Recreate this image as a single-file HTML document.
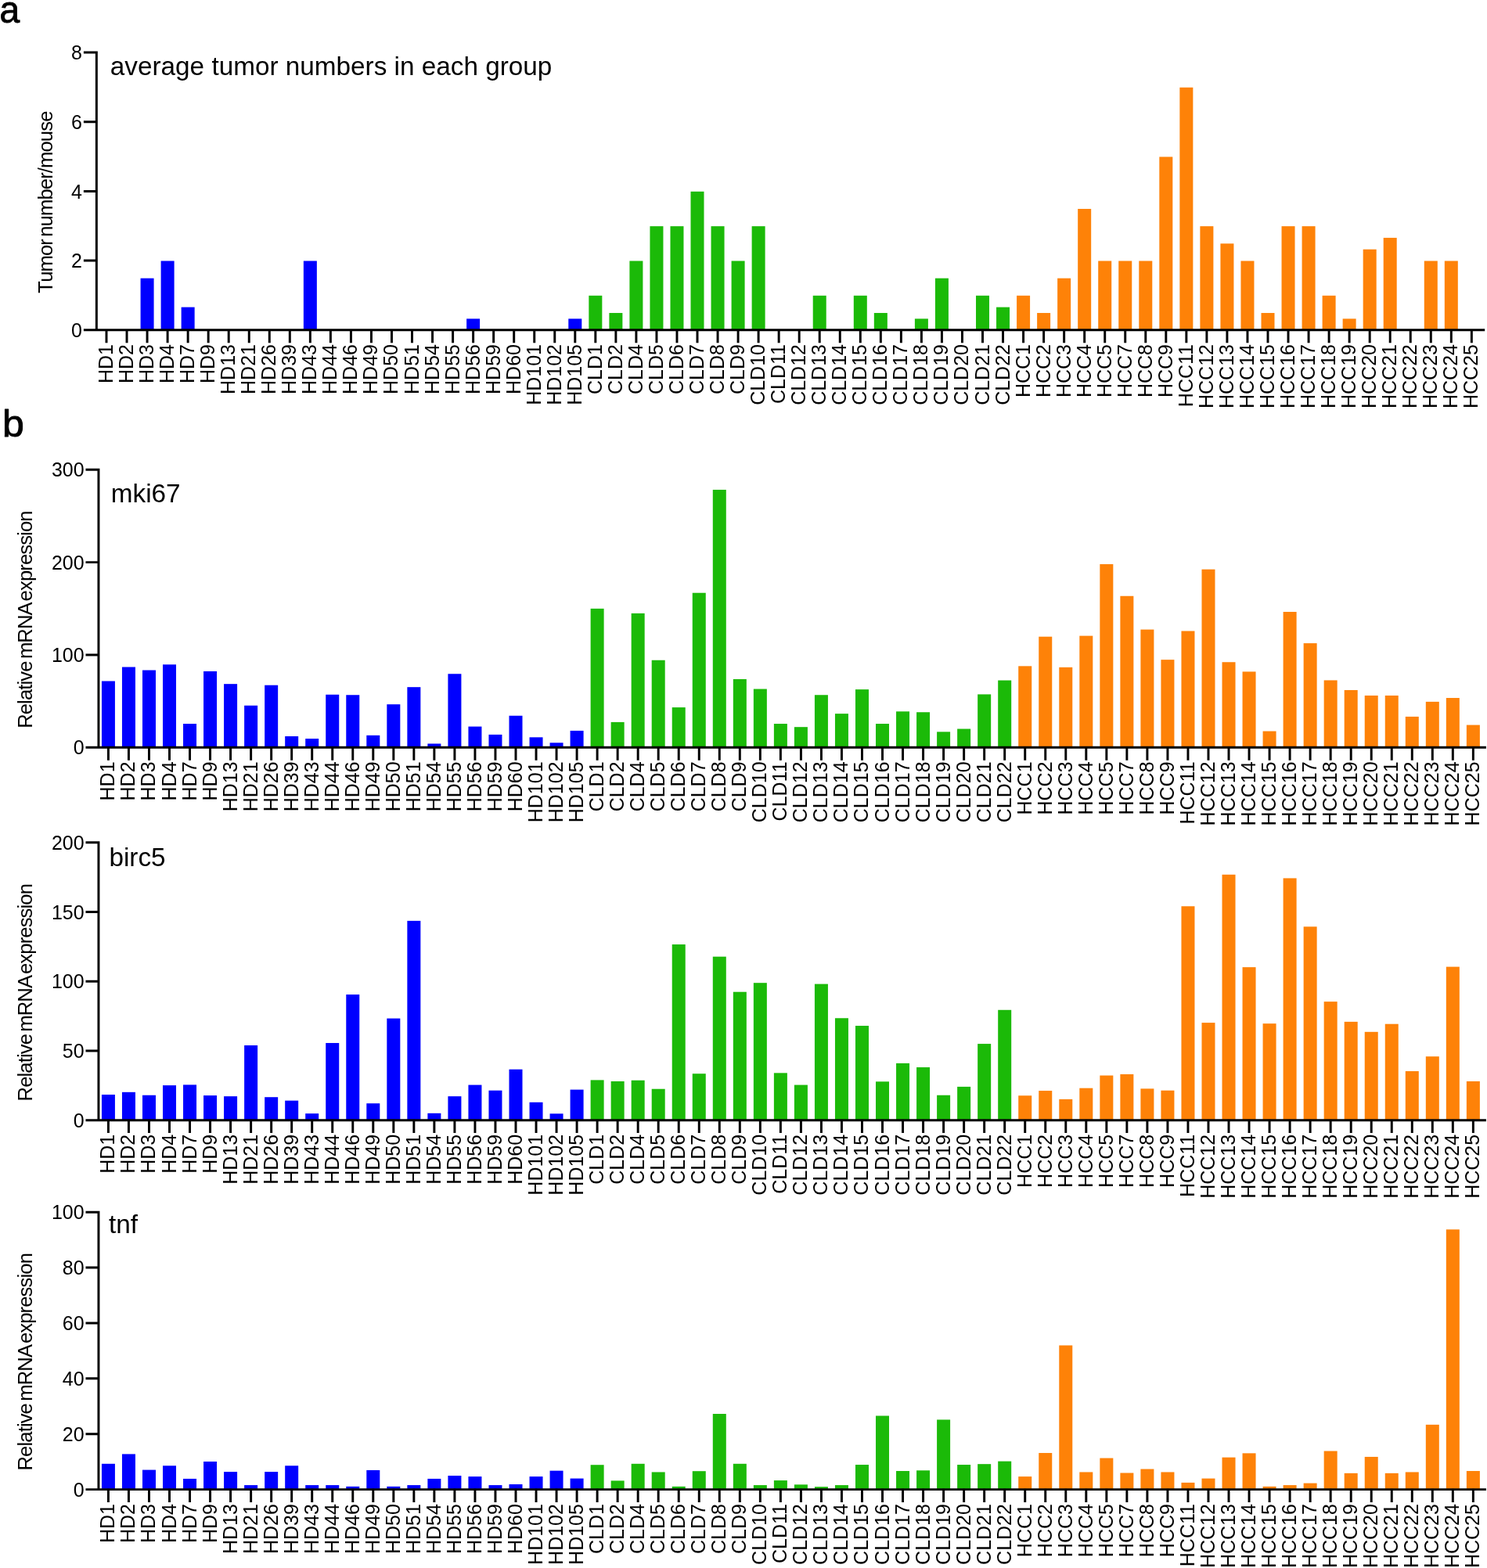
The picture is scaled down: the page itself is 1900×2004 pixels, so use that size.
<!DOCTYPE html>
<html lang="en">
<head>
<meta charset="utf-8">
<title>Tumor numbers and relative mRNA expression</title>
<style>
html,body{margin:0;padding:0;background:#fff;}
body{width:1900px;height:2004px;overflow:hidden;}
svg{display:block;}
text{font-family:"Liberation Sans", Arial, Helvetica, sans-serif;fill:#000;}
.ax{stroke:#000;stroke-width:2.95;fill:none;stroke-linecap:butt;}
.panel{font-weight:normal;font-size:48.6px;stroke:#000;stroke-width:0.9px;stroke-linejoin:round;}
.title{font-size:33.3px;}
.yt{font-size:25.0px;text-anchor:end;}
.yl{font-size:26.5px;text-anchor:middle;letter-spacing:-0.9px;word-spacing:-3.1px;}
.xl{text-anchor:end;}
</style>
</head>
<body>
<svg xmlns="http://www.w3.org/2000/svg" width="1900" height="2004" viewBox="0 0 1900 2004">
<rect x="0" y="0" width="1900" height="2004" fill="#ffffff"/>
<text class="panel" transform="translate(-0.4 28.8) scale(0.95 1)">a</text>
<text class="panel" transform="translate(3.1 557.9) scale(1.03 1)">b</text>
<g id="chart-a">
<g class="bars">
<rect x="179.57" y="355.64" width="17" height="66.11" fill="#0000ff"/>
<rect x="205.61" y="333.48" width="17" height="88.27" fill="#0000ff"/>
<rect x="231.64" y="392.59" width="17" height="29.16" fill="#0000ff"/>
<rect x="387.85" y="333.48" width="17" height="88.27" fill="#0000ff"/>
<rect x="596.13" y="407.37" width="17" height="14.38" fill="#0000ff"/>
<rect x="726.3" y="407.37" width="17" height="14.38" fill="#0000ff"/>
<rect x="752.34" y="377.81" width="17" height="43.94" fill="#1bba08"/>
<rect x="778.38" y="399.98" width="17" height="21.77" fill="#1bba08"/>
<rect x="804.41" y="333.48" width="17" height="88.27" fill="#1bba08"/>
<rect x="830.45" y="289.14" width="17" height="132.61" fill="#1bba08"/>
<rect x="856.48" y="289.14" width="17" height="132.61" fill="#1bba08"/>
<rect x="882.51" y="244.8" width="17" height="176.95" fill="#1bba08"/>
<rect x="908.55" y="289.14" width="17" height="132.61" fill="#1bba08"/>
<rect x="934.59" y="333.48" width="17" height="88.27" fill="#1bba08"/>
<rect x="960.62" y="289.14" width="17" height="132.61" fill="#1bba08"/>
<rect x="1038.72" y="377.81" width="17" height="43.94" fill="#1bba08"/>
<rect x="1090.8" y="377.81" width="17" height="43.94" fill="#1bba08"/>
<rect x="1116.83" y="399.98" width="17" height="21.77" fill="#1bba08"/>
<rect x="1168.9" y="407.37" width="17" height="14.38" fill="#1bba08"/>
<rect x="1194.93" y="355.64" width="17" height="66.11" fill="#1bba08"/>
<rect x="1247.01" y="377.81" width="17" height="43.94" fill="#1bba08"/>
<rect x="1273.04" y="392.59" width="17" height="29.16" fill="#1bba08"/>
<rect x="1299.08" y="377.81" width="17" height="43.94" fill="#fe8208"/>
<rect x="1325.11" y="399.98" width="17" height="21.77" fill="#fe8208"/>
<rect x="1351.14" y="355.64" width="17" height="66.11" fill="#fe8208"/>
<rect x="1377.18" y="266.97" width="17" height="154.78" fill="#fe8208"/>
<rect x="1403.21" y="333.48" width="17" height="88.27" fill="#fe8208"/>
<rect x="1429.25" y="333.48" width="17" height="88.27" fill="#fe8208"/>
<rect x="1455.29" y="333.48" width="17" height="88.27" fill="#fe8208"/>
<rect x="1481.32" y="200.46" width="17" height="221.29" fill="#fe8208"/>
<rect x="1507.36" y="111.79" width="17" height="309.96" fill="#fe8208"/>
<rect x="1533.39" y="289.14" width="17" height="132.61" fill="#fe8208"/>
<rect x="1559.42" y="311.31" width="17" height="110.44" fill="#fe8208"/>
<rect x="1585.46" y="333.48" width="17" height="88.27" fill="#fe8208"/>
<rect x="1611.5" y="399.98" width="17" height="21.77" fill="#fe8208"/>
<rect x="1637.53" y="289.14" width="17" height="132.61" fill="#fe8208"/>
<rect x="1663.57" y="289.14" width="17" height="132.61" fill="#fe8208"/>
<rect x="1689.6" y="377.81" width="17" height="43.94" fill="#fe8208"/>
<rect x="1715.63" y="407.37" width="17" height="14.38" fill="#fe8208"/>
<rect x="1741.67" y="318.7" width="17" height="103.05" fill="#fe8208"/>
<rect x="1767.7" y="303.92" width="17" height="117.83" fill="#fe8208"/>
<rect x="1819.78" y="333.48" width="17" height="88.27" fill="#fe8208"/>
<rect x="1845.81" y="333.48" width="17" height="88.27" fill="#fe8208"/>
</g>
<path class="ax" d="M123.35 65.58V423.23M106.88 421.75H1897.2M106.88 333.07H123.35M106.88 244.4H123.35M106.88 155.73H123.35M106.88 67.05H123.35M136 421.75V438.23M162.03 421.75V438.23M188.07 421.75V438.23M214.11 421.75V438.23M240.14 421.75V438.23M266.18 421.75V438.23M292.21 421.75V438.23M318.25 421.75V438.23M344.28 421.75V438.23M370.31 421.75V438.23M396.35 421.75V438.23M422.38 421.75V438.23M448.42 421.75V438.23M474.45 421.75V438.23M500.49 421.75V438.23M526.52 421.75V438.23M552.56 421.75V438.23M578.6 421.75V438.23M604.63 421.75V438.23M630.66 421.75V438.23M656.7 421.75V438.23M682.74 421.75V438.23M708.77 421.75V438.23M734.8 421.75V438.23M760.84 421.75V438.23M786.88 421.75V438.23M812.91 421.75V438.23M838.95 421.75V438.23M864.98 421.75V438.23M891.01 421.75V438.23M917.05 421.75V438.23M943.09 421.75V438.23M969.12 421.75V438.23M995.15 421.75V438.23M1021.19 421.75V438.23M1047.22 421.75V438.23M1073.26 421.75V438.23M1099.3 421.75V438.23M1125.33 421.75V438.23M1151.37 421.75V438.23M1177.4 421.75V438.23M1203.43 421.75V438.23M1229.47 421.75V438.23M1255.51 421.75V438.23M1281.54 421.75V438.23M1307.58 421.75V438.23M1333.61 421.75V438.23M1359.64 421.75V438.23M1385.68 421.75V438.23M1411.71 421.75V438.23M1437.75 421.75V438.23M1463.79 421.75V438.23M1489.82 421.75V438.23M1515.86 421.75V438.23M1541.89 421.75V438.23M1567.92 421.75V438.23M1593.96 421.75V438.23M1620 421.75V438.23M1646.03 421.75V438.23M1672.07 421.75V438.23M1698.1 421.75V438.23M1724.13 421.75V438.23M1750.17 421.75V438.23M1776.2 421.75V438.23M1802.24 421.75V438.23M1828.28 421.75V438.23M1854.31 421.75V438.23M1880.35 421.75V438.23"/>
<text class="yt" transform="translate(104.97 430.85) scale(1 1.04)">0</text>
<text class="yt" transform="translate(104.97 342.18) scale(1 1.04)">2</text>
<text class="yt" transform="translate(104.97 253.5) scale(1 1.04)">4</text>
<text class="yt" transform="translate(104.97 164.83) scale(1 1.04)">6</text>
<text class="yt" transform="translate(104.97 76.15) scale(1 1.04)">8</text>
<text class="title" x="140.8" y="96.1">average tumor numbers in each group</text>
<text class="yl" transform="translate(67.4 258.55) rotate(-90) scale(0.966 1)">Tumor number/mouse</text>
<g class="xl" font-size="25">
<text transform="translate(144 440.05) rotate(-90) scale(1 1.055)">HD1</text>
<text transform="translate(170.03 440.05) rotate(-90) scale(1 1.055)">HD2</text>
<text transform="translate(196.07 440.05) rotate(-90) scale(1 1.055)">HD3</text>
<text transform="translate(222.11 440.05) rotate(-90) scale(1 1.055)">HD4</text>
<text transform="translate(248.14 440.05) rotate(-90) scale(1 1.055)">HD7</text>
<text transform="translate(274.18 440.05) rotate(-90) scale(1 1.055)">HD9</text>
<text transform="translate(300.21 440.05) rotate(-90) scale(1 1.055)">HD13</text>
<text transform="translate(326.25 440.05) rotate(-90) scale(1 1.055)">HD21</text>
<text transform="translate(352.28 440.05) rotate(-90) scale(1 1.055)">HD26</text>
<text transform="translate(378.31 440.05) rotate(-90) scale(1 1.055)">HD39</text>
<text transform="translate(404.35 440.05) rotate(-90) scale(1 1.055)">HD43</text>
<text transform="translate(430.38 440.05) rotate(-90) scale(1 1.055)">HD44</text>
<text transform="translate(456.42 440.05) rotate(-90) scale(1 1.055)">HD46</text>
<text transform="translate(482.45 440.05) rotate(-90) scale(1 1.055)">HD49</text>
<text transform="translate(508.49 440.05) rotate(-90) scale(1 1.055)">HD50</text>
<text transform="translate(534.52 440.05) rotate(-90) scale(1 1.055)">HD51</text>
<text transform="translate(560.56 440.05) rotate(-90) scale(1 1.055)">HD54</text>
<text transform="translate(586.6 440.05) rotate(-90) scale(1 1.055)">HD55</text>
<text transform="translate(612.63 440.05) rotate(-90) scale(1 1.055)">HD56</text>
<text transform="translate(638.66 440.05) rotate(-90) scale(1 1.055)">HD59</text>
<text transform="translate(664.7 440.05) rotate(-90) scale(1 1.055)">HD60</text>
<text transform="translate(690.74 440.05) rotate(-90) scale(1 1.055)">HD101</text>
<text transform="translate(716.77 440.05) rotate(-90) scale(1 1.055)">HD102</text>
<text transform="translate(742.8 440.05) rotate(-90) scale(1 1.055)">HD105</text>
<text transform="translate(768.84 440.05) rotate(-90) scale(1 1.055)">CLD1</text>
<text transform="translate(794.88 440.05) rotate(-90) scale(1 1.055)">CLD2</text>
<text transform="translate(820.91 440.05) rotate(-90) scale(1 1.055)">CLD4</text>
<text transform="translate(846.95 440.05) rotate(-90) scale(1 1.055)">CLD5</text>
<text transform="translate(872.98 440.05) rotate(-90) scale(1 1.055)">CLD6</text>
<text transform="translate(899.01 440.05) rotate(-90) scale(1 1.055)">CLD7</text>
<text transform="translate(925.05 440.05) rotate(-90) scale(1 1.055)">CLD8</text>
<text transform="translate(951.09 440.05) rotate(-90) scale(1 1.055)">CLD9</text>
<text transform="translate(977.12 440.05) rotate(-90) scale(1 1.055)">CLD10</text>
<text transform="translate(1003.15 440.05) rotate(-90) scale(1 1.055)">CLD11</text>
<text transform="translate(1029.19 440.05) rotate(-90) scale(1 1.055)">CLD12</text>
<text transform="translate(1055.22 440.05) rotate(-90) scale(1 1.055)">CLD13</text>
<text transform="translate(1081.26 440.05) rotate(-90) scale(1 1.055)">CLD14</text>
<text transform="translate(1107.3 440.05) rotate(-90) scale(1 1.055)">CLD15</text>
<text transform="translate(1133.33 440.05) rotate(-90) scale(1 1.055)">CLD16</text>
<text transform="translate(1159.37 440.05) rotate(-90) scale(1 1.055)">CLD17</text>
<text transform="translate(1185.4 440.05) rotate(-90) scale(1 1.055)">CLD18</text>
<text transform="translate(1211.43 440.05) rotate(-90) scale(1 1.055)">CLD19</text>
<text transform="translate(1237.47 440.05) rotate(-90) scale(1 1.055)">CLD20</text>
<text transform="translate(1263.51 440.05) rotate(-90) scale(1 1.055)">CLD21</text>
<text transform="translate(1289.54 440.05) rotate(-90) scale(1 1.055)">CLD22</text>
<text transform="translate(1315.58 440.05) rotate(-90) scale(1 1.055)">HCC1</text>
<text transform="translate(1341.61 440.05) rotate(-90) scale(1 1.055)">HCC2</text>
<text transform="translate(1367.64 440.05) rotate(-90) scale(1 1.055)">HCC3</text>
<text transform="translate(1393.68 440.05) rotate(-90) scale(1 1.055)">HCC4</text>
<text transform="translate(1419.71 440.05) rotate(-90) scale(1 1.055)">HCC5</text>
<text transform="translate(1445.75 440.05) rotate(-90) scale(1 1.055)">HCC7</text>
<text transform="translate(1471.79 440.05) rotate(-90) scale(1 1.055)">HCC8</text>
<text transform="translate(1497.82 440.05) rotate(-90) scale(1 1.055)">HCC9</text>
<text transform="translate(1523.86 440.05) rotate(-90) scale(1 1.055)">HCC11</text>
<text transform="translate(1549.89 440.05) rotate(-90) scale(1 1.055)">HCC12</text>
<text transform="translate(1575.92 440.05) rotate(-90) scale(1 1.055)">HCC13</text>
<text transform="translate(1601.96 440.05) rotate(-90) scale(1 1.055)">HCC14</text>
<text transform="translate(1628 440.05) rotate(-90) scale(1 1.055)">HCC15</text>
<text transform="translate(1654.03 440.05) rotate(-90) scale(1 1.055)">HCC16</text>
<text transform="translate(1680.07 440.05) rotate(-90) scale(1 1.055)">HCC17</text>
<text transform="translate(1706.1 440.05) rotate(-90) scale(1 1.055)">HCC18</text>
<text transform="translate(1732.13 440.05) rotate(-90) scale(1 1.055)">HCC19</text>
<text transform="translate(1758.17 440.05) rotate(-90) scale(1 1.055)">HCC20</text>
<text transform="translate(1784.2 440.05) rotate(-90) scale(1 1.055)">HCC21</text>
<text transform="translate(1810.24 440.05) rotate(-90) scale(1 1.055)">HCC22</text>
<text transform="translate(1836.28 440.05) rotate(-90) scale(1 1.055)">HCC23</text>
<text transform="translate(1862.31 440.05) rotate(-90) scale(1 1.055)">HCC24</text>
<text transform="translate(1888.35 440.05) rotate(-90) scale(1 1.055)">HCC25</text>
</g>
</g>
<g id="chart-b1">
<g class="bars">
<rect x="129.92" y="870.49" width="17" height="84.76" fill="#0000ff"/>
<rect x="155.95" y="852.51" width="17" height="102.74" fill="#0000ff"/>
<rect x="181.98" y="856.53" width="17" height="98.72" fill="#0000ff"/>
<rect x="208.01" y="849.31" width="17" height="105.94" fill="#0000ff"/>
<rect x="234.04" y="925.03" width="17" height="30.22" fill="#0000ff"/>
<rect x="260.06" y="857.95" width="17" height="97.3" fill="#0000ff"/>
<rect x="286.09" y="874.16" width="17" height="81.09" fill="#0000ff"/>
<rect x="312.12" y="901.73" width="17" height="53.52" fill="#0000ff"/>
<rect x="338.15" y="875.7" width="17" height="79.55" fill="#0000ff"/>
<rect x="364.18" y="941.01" width="17" height="14.24" fill="#0000ff"/>
<rect x="390.21" y="944.08" width="17" height="11.17" fill="#0000ff"/>
<rect x="416.24" y="887.76" width="17" height="67.49" fill="#0000ff"/>
<rect x="442.27" y="888.24" width="17" height="67.01" fill="#0000ff"/>
<rect x="468.3" y="939.82" width="17" height="15.43" fill="#0000ff"/>
<rect x="494.33" y="900.19" width="17" height="55.06" fill="#0000ff"/>
<rect x="520.36" y="878.18" width="17" height="77.07" fill="#0000ff"/>
<rect x="546.38" y="950.47" width="17" height="4.78" fill="#0000ff"/>
<rect x="572.41" y="861.26" width="17" height="93.99" fill="#0000ff"/>
<rect x="598.44" y="928.58" width="17" height="26.67" fill="#0000ff"/>
<rect x="624.47" y="938.88" width="17" height="16.37" fill="#0000ff"/>
<rect x="650.5" y="914.74" width="17" height="40.51" fill="#0000ff"/>
<rect x="676.53" y="942.31" width="17" height="12.94" fill="#0000ff"/>
<rect x="702.56" y="949.29" width="17" height="5.96" fill="#0000ff"/>
<rect x="728.59" y="933.91" width="17" height="21.34" fill="#0000ff"/>
<rect x="754.62" y="777.85" width="17" height="177.4" fill="#1bba08"/>
<rect x="780.64" y="922.9" width="17" height="32.35" fill="#1bba08"/>
<rect x="806.67" y="783.88" width="17" height="171.37" fill="#1bba08"/>
<rect x="832.7" y="843.75" width="17" height="111.5" fill="#1bba08"/>
<rect x="858.73" y="904.09" width="17" height="51.16" fill="#1bba08"/>
<rect x="884.76" y="757.73" width="17" height="197.52" fill="#1bba08"/>
<rect x="910.79" y="625.93" width="17" height="329.32" fill="#1bba08"/>
<rect x="936.82" y="868.01" width="17" height="87.24" fill="#1bba08"/>
<rect x="962.85" y="880.55" width="17" height="74.7" fill="#1bba08"/>
<rect x="988.88" y="925.03" width="17" height="30.22" fill="#1bba08"/>
<rect x="1014.91" y="929.18" width="17" height="26.07" fill="#1bba08"/>
<rect x="1040.93" y="888.24" width="17" height="67.01" fill="#1bba08"/>
<rect x="1066.96" y="912.14" width="17" height="43.11" fill="#1bba08"/>
<rect x="1092.99" y="881.14" width="17" height="74.11" fill="#1bba08"/>
<rect x="1119.02" y="925.03" width="17" height="30.22" fill="#1bba08"/>
<rect x="1145.05" y="909.3" width="17" height="45.95" fill="#1bba08"/>
<rect x="1171.08" y="910.24" width="17" height="45.01" fill="#1bba08"/>
<rect x="1197.11" y="935.33" width="17" height="19.92" fill="#1bba08"/>
<rect x="1223.14" y="931.54" width="17" height="23.71" fill="#1bba08"/>
<rect x="1249.17" y="887.41" width="17" height="67.84" fill="#1bba08"/>
<rect x="1275.2" y="869.54" width="17" height="85.71" fill="#1bba08"/>
<rect x="1301.23" y="851.32" width="17" height="103.93" fill="#fe8208"/>
<rect x="1327.25" y="813.7" width="17" height="141.55" fill="#fe8208"/>
<rect x="1353.28" y="852.86" width="17" height="102.39" fill="#fe8208"/>
<rect x="1379.31" y="812.63" width="17" height="142.62" fill="#fe8208"/>
<rect x="1405.34" y="721.06" width="17" height="234.19" fill="#fe8208"/>
<rect x="1431.37" y="761.76" width="17" height="193.49" fill="#fe8208"/>
<rect x="1457.4" y="804.59" width="17" height="150.66" fill="#fe8208"/>
<rect x="1483.43" y="843.16" width="17" height="112.09" fill="#fe8208"/>
<rect x="1509.46" y="806.48" width="17" height="148.77" fill="#fe8208"/>
<rect x="1535.49" y="727.68" width="17" height="227.57" fill="#fe8208"/>
<rect x="1561.52" y="846.24" width="17" height="109.01" fill="#fe8208"/>
<rect x="1587.54" y="858.42" width="17" height="96.83" fill="#fe8208"/>
<rect x="1613.57" y="934.5" width="17" height="20.75" fill="#fe8208"/>
<rect x="1639.6" y="781.99" width="17" height="173.26" fill="#fe8208"/>
<rect x="1665.63" y="822.1" width="17" height="133.15" fill="#fe8208"/>
<rect x="1691.66" y="869.43" width="17" height="85.82" fill="#fe8208"/>
<rect x="1717.69" y="881.97" width="17" height="73.28" fill="#fe8208"/>
<rect x="1743.72" y="888.95" width="17" height="66.3" fill="#fe8208"/>
<rect x="1769.75" y="888.95" width="17" height="66.3" fill="#fe8208"/>
<rect x="1795.78" y="915.92" width="17" height="39.33" fill="#fe8208"/>
<rect x="1821.81" y="896.87" width="17" height="58.38" fill="#fe8208"/>
<rect x="1847.83" y="892.02" width="17" height="63.23" fill="#fe8208"/>
<rect x="1873.86" y="926.57" width="17" height="28.68" fill="#fe8208"/>
</g>
<path class="ax" d="M125.95 598.82V956.73M109.48 955.25H1898.9M109.48 836.93H125.95M109.48 718.62H125.95M109.48 600.3H125.95M138.42 955.25V971.73M164.45 955.25V971.73M190.48 955.25V971.73M216.51 955.25V971.73M242.54 955.25V971.73M268.56 955.25V971.73M294.59 955.25V971.73M320.62 955.25V971.73M346.65 955.25V971.73M372.68 955.25V971.73M398.71 955.25V971.73M424.74 955.25V971.73M450.77 955.25V971.73M476.8 955.25V971.73M502.83 955.25V971.73M528.86 955.25V971.73M554.88 955.25V971.73M580.91 955.25V971.73M606.94 955.25V971.73M632.97 955.25V971.73M659 955.25V971.73M685.03 955.25V971.73M711.06 955.25V971.73M737.09 955.25V971.73M763.12 955.25V971.73M789.14 955.25V971.73M815.17 955.25V971.73M841.2 955.25V971.73M867.23 955.25V971.73M893.26 955.25V971.73M919.29 955.25V971.73M945.32 955.25V971.73M971.35 955.25V971.73M997.38 955.25V971.73M1023.41 955.25V971.73M1049.43 955.25V971.73M1075.46 955.25V971.73M1101.49 955.25V971.73M1127.52 955.25V971.73M1153.55 955.25V971.73M1179.58 955.25V971.73M1205.61 955.25V971.73M1231.64 955.25V971.73M1257.67 955.25V971.73M1283.7 955.25V971.73M1309.73 955.25V971.73M1335.75 955.25V971.73M1361.78 955.25V971.73M1387.81 955.25V971.73M1413.84 955.25V971.73M1439.87 955.25V971.73M1465.9 955.25V971.73M1491.93 955.25V971.73M1517.96 955.25V971.73M1543.99 955.25V971.73M1570.02 955.25V971.73M1596.04 955.25V971.73M1622.07 955.25V971.73M1648.1 955.25V971.73M1674.13 955.25V971.73M1700.16 955.25V971.73M1726.19 955.25V971.73M1752.22 955.25V971.73M1778.25 955.25V971.73M1804.28 955.25V971.73M1830.31 955.25V971.73M1856.33 955.25V971.73M1882.36 955.25V971.73"/>
<text class="yt" transform="translate(107.58 964.35) scale(1 1.04)">0</text>
<text class="yt" transform="translate(107.58 846.03) scale(1 1.04)">100</text>
<text class="yt" transform="translate(107.58 727.72) scale(1 1.04)">200</text>
<text class="yt" transform="translate(107.58 609.4) scale(1 1.04)">300</text>
<text class="title" x="141.8" y="641.8">mki67</text>
<text class="yl" transform="translate(40.65 792.1) rotate(-90) scale(0.966 1)">Relative mRNA expression</text>
<g class="xl" font-size="25">
<text transform="translate(146.42 973.45) rotate(-90) scale(1 1.055)">HD1</text>
<text transform="translate(172.45 973.45) rotate(-90) scale(1 1.055)">HD2</text>
<text transform="translate(198.48 973.45) rotate(-90) scale(1 1.055)">HD3</text>
<text transform="translate(224.51 973.45) rotate(-90) scale(1 1.055)">HD4</text>
<text transform="translate(250.54 973.45) rotate(-90) scale(1 1.055)">HD7</text>
<text transform="translate(276.56 973.45) rotate(-90) scale(1 1.055)">HD9</text>
<text transform="translate(302.59 973.45) rotate(-90) scale(1 1.055)">HD13</text>
<text transform="translate(328.62 973.45) rotate(-90) scale(1 1.055)">HD21</text>
<text transform="translate(354.65 973.45) rotate(-90) scale(1 1.055)">HD26</text>
<text transform="translate(380.68 973.45) rotate(-90) scale(1 1.055)">HD39</text>
<text transform="translate(406.71 973.45) rotate(-90) scale(1 1.055)">HD43</text>
<text transform="translate(432.74 973.45) rotate(-90) scale(1 1.055)">HD44</text>
<text transform="translate(458.77 973.45) rotate(-90) scale(1 1.055)">HD46</text>
<text transform="translate(484.8 973.45) rotate(-90) scale(1 1.055)">HD49</text>
<text transform="translate(510.83 973.45) rotate(-90) scale(1 1.055)">HD50</text>
<text transform="translate(536.86 973.45) rotate(-90) scale(1 1.055)">HD51</text>
<text transform="translate(562.88 973.45) rotate(-90) scale(1 1.055)">HD54</text>
<text transform="translate(588.91 973.45) rotate(-90) scale(1 1.055)">HD55</text>
<text transform="translate(614.94 973.45) rotate(-90) scale(1 1.055)">HD56</text>
<text transform="translate(640.97 973.45) rotate(-90) scale(1 1.055)">HD59</text>
<text transform="translate(667 973.45) rotate(-90) scale(1 1.055)">HD60</text>
<text transform="translate(693.03 973.45) rotate(-90) scale(1 1.055)">HD101</text>
<text transform="translate(719.06 973.45) rotate(-90) scale(1 1.055)">HD102</text>
<text transform="translate(745.09 973.45) rotate(-90) scale(1 1.055)">HD105</text>
<text transform="translate(771.12 973.45) rotate(-90) scale(1 1.055)">CLD1</text>
<text transform="translate(797.14 973.45) rotate(-90) scale(1 1.055)">CLD2</text>
<text transform="translate(823.17 973.45) rotate(-90) scale(1 1.055)">CLD4</text>
<text transform="translate(849.2 973.45) rotate(-90) scale(1 1.055)">CLD5</text>
<text transform="translate(875.23 973.45) rotate(-90) scale(1 1.055)">CLD6</text>
<text transform="translate(901.26 973.45) rotate(-90) scale(1 1.055)">CLD7</text>
<text transform="translate(927.29 973.45) rotate(-90) scale(1 1.055)">CLD8</text>
<text transform="translate(953.32 973.45) rotate(-90) scale(1 1.055)">CLD9</text>
<text transform="translate(979.35 973.45) rotate(-90) scale(1 1.055)">CLD10</text>
<text transform="translate(1005.38 973.45) rotate(-90) scale(1 1.055)">CLD11</text>
<text transform="translate(1031.41 973.45) rotate(-90) scale(1 1.055)">CLD12</text>
<text transform="translate(1057.43 973.45) rotate(-90) scale(1 1.055)">CLD13</text>
<text transform="translate(1083.46 973.45) rotate(-90) scale(1 1.055)">CLD14</text>
<text transform="translate(1109.49 973.45) rotate(-90) scale(1 1.055)">CLD15</text>
<text transform="translate(1135.52 973.45) rotate(-90) scale(1 1.055)">CLD16</text>
<text transform="translate(1161.55 973.45) rotate(-90) scale(1 1.055)">CLD17</text>
<text transform="translate(1187.58 973.45) rotate(-90) scale(1 1.055)">CLD18</text>
<text transform="translate(1213.61 973.45) rotate(-90) scale(1 1.055)">CLD19</text>
<text transform="translate(1239.64 973.45) rotate(-90) scale(1 1.055)">CLD20</text>
<text transform="translate(1265.67 973.45) rotate(-90) scale(1 1.055)">CLD21</text>
<text transform="translate(1291.7 973.45) rotate(-90) scale(1 1.055)">CLD22</text>
<text transform="translate(1317.73 973.45) rotate(-90) scale(1 1.055)">HCC1</text>
<text transform="translate(1343.75 973.45) rotate(-90) scale(1 1.055)">HCC2</text>
<text transform="translate(1369.78 973.45) rotate(-90) scale(1 1.055)">HCC3</text>
<text transform="translate(1395.81 973.45) rotate(-90) scale(1 1.055)">HCC4</text>
<text transform="translate(1421.84 973.45) rotate(-90) scale(1 1.055)">HCC5</text>
<text transform="translate(1447.87 973.45) rotate(-90) scale(1 1.055)">HCC7</text>
<text transform="translate(1473.9 973.45) rotate(-90) scale(1 1.055)">HCC8</text>
<text transform="translate(1499.93 973.45) rotate(-90) scale(1 1.055)">HCC9</text>
<text transform="translate(1525.96 973.45) rotate(-90) scale(1 1.055)">HCC11</text>
<text transform="translate(1551.99 973.45) rotate(-90) scale(1 1.055)">HCC12</text>
<text transform="translate(1578.02 973.45) rotate(-90) scale(1 1.055)">HCC13</text>
<text transform="translate(1604.04 973.45) rotate(-90) scale(1 1.055)">HCC14</text>
<text transform="translate(1630.07 973.45) rotate(-90) scale(1 1.055)">HCC15</text>
<text transform="translate(1656.1 973.45) rotate(-90) scale(1 1.055)">HCC16</text>
<text transform="translate(1682.13 973.45) rotate(-90) scale(1 1.055)">HCC17</text>
<text transform="translate(1708.16 973.45) rotate(-90) scale(1 1.055)">HCC18</text>
<text transform="translate(1734.19 973.45) rotate(-90) scale(1 1.055)">HCC19</text>
<text transform="translate(1760.22 973.45) rotate(-90) scale(1 1.055)">HCC20</text>
<text transform="translate(1786.25 973.45) rotate(-90) scale(1 1.055)">HCC21</text>
<text transform="translate(1812.28 973.45) rotate(-90) scale(1 1.055)">HCC22</text>
<text transform="translate(1838.31 973.45) rotate(-90) scale(1 1.055)">HCC23</text>
<text transform="translate(1864.33 973.45) rotate(-90) scale(1 1.055)">HCC24</text>
<text transform="translate(1890.36 973.45) rotate(-90) scale(1 1.055)">HCC25</text>
</g>
</g>
<g id="chart-b2">
<g class="bars">
<rect x="129.92" y="1399.02" width="17" height="32.63" fill="#0000ff"/>
<rect x="155.95" y="1395.82" width="17" height="35.83" fill="#0000ff"/>
<rect x="181.98" y="1399.73" width="17" height="31.92" fill="#0000ff"/>
<rect x="208.01" y="1387.13" width="17" height="44.52" fill="#0000ff"/>
<rect x="234.04" y="1386.42" width="17" height="45.23" fill="#0000ff"/>
<rect x="260.06" y="1400.08" width="17" height="31.57" fill="#0000ff"/>
<rect x="286.09" y="1401.15" width="17" height="30.5" fill="#0000ff"/>
<rect x="312.12" y="1336.03" width="17" height="95.62" fill="#0000ff"/>
<rect x="338.15" y="1402.21" width="17" height="29.44" fill="#0000ff"/>
<rect x="364.18" y="1406.65" width="17" height="25" fill="#0000ff"/>
<rect x="390.21" y="1423.15" width="17" height="8.5" fill="#0000ff"/>
<rect x="416.24" y="1333.02" width="17" height="98.63" fill="#0000ff"/>
<rect x="442.27" y="1271.09" width="17" height="160.56" fill="#0000ff"/>
<rect x="468.3" y="1410.2" width="17" height="21.45" fill="#0000ff"/>
<rect x="494.33" y="1301.61" width="17" height="130.04" fill="#0000ff"/>
<rect x="520.36" y="1176.88" width="17" height="254.77" fill="#0000ff"/>
<rect x="546.38" y="1422.79" width="17" height="8.86" fill="#0000ff"/>
<rect x="572.41" y="1401.15" width="17" height="30.5" fill="#0000ff"/>
<rect x="598.44" y="1386.6" width="17" height="45.05" fill="#0000ff"/>
<rect x="624.47" y="1393.7" width="17" height="37.95" fill="#0000ff"/>
<rect x="650.5" y="1366.73" width="17" height="64.92" fill="#0000ff"/>
<rect x="676.53" y="1408.78" width="17" height="22.87" fill="#0000ff"/>
<rect x="702.56" y="1423.33" width="17" height="8.32" fill="#0000ff"/>
<rect x="728.59" y="1392.63" width="17" height="39.02" fill="#0000ff"/>
<rect x="754.62" y="1380.39" width="17" height="51.26" fill="#1bba08"/>
<rect x="780.64" y="1381.99" width="17" height="49.66" fill="#1bba08"/>
<rect x="806.67" y="1380.74" width="17" height="50.91" fill="#1bba08"/>
<rect x="832.7" y="1391.74" width="17" height="39.91" fill="#1bba08"/>
<rect x="858.73" y="1207.04" width="17" height="224.61" fill="#1bba08"/>
<rect x="884.76" y="1372.23" width="17" height="59.42" fill="#1bba08"/>
<rect x="910.79" y="1222.66" width="17" height="208.99" fill="#1bba08"/>
<rect x="936.82" y="1267.72" width="17" height="163.93" fill="#1bba08"/>
<rect x="962.85" y="1256.19" width="17" height="175.46" fill="#1bba08"/>
<rect x="988.88" y="1371.34" width="17" height="60.31" fill="#1bba08"/>
<rect x="1014.91" y="1386.6" width="17" height="45.05" fill="#1bba08"/>
<rect x="1040.93" y="1257.61" width="17" height="174.04" fill="#1bba08"/>
<rect x="1066.96" y="1301.26" width="17" height="130.39" fill="#1bba08"/>
<rect x="1092.99" y="1311.02" width="17" height="120.63" fill="#1bba08"/>
<rect x="1119.02" y="1382.34" width="17" height="49.31" fill="#1bba08"/>
<rect x="1145.05" y="1358.92" width="17" height="72.73" fill="#1bba08"/>
<rect x="1171.08" y="1364.07" width="17" height="67.58" fill="#1bba08"/>
<rect x="1197.11" y="1399.73" width="17" height="31.92" fill="#1bba08"/>
<rect x="1223.14" y="1388.91" width="17" height="42.74" fill="#1bba08"/>
<rect x="1249.17" y="1334.08" width="17" height="97.57" fill="#1bba08"/>
<rect x="1275.2" y="1290.79" width="17" height="140.86" fill="#1bba08"/>
<rect x="1301.23" y="1400.26" width="17" height="31.39" fill="#fe8208"/>
<rect x="1327.25" y="1394.05" width="17" height="37.6" fill="#fe8208"/>
<rect x="1353.28" y="1404.87" width="17" height="26.78" fill="#fe8208"/>
<rect x="1379.31" y="1390.68" width="17" height="40.97" fill="#fe8208"/>
<rect x="1405.34" y="1374.53" width="17" height="57.12" fill="#fe8208"/>
<rect x="1431.37" y="1372.94" width="17" height="58.71" fill="#fe8208"/>
<rect x="1457.4" y="1391.39" width="17" height="40.26" fill="#fe8208"/>
<rect x="1483.43" y="1393.7" width="17" height="37.95" fill="#fe8208"/>
<rect x="1509.46" y="1158.25" width="17" height="273.4" fill="#fe8208"/>
<rect x="1535.49" y="1307.11" width="17" height="124.54" fill="#fe8208"/>
<rect x="1561.52" y="1117.8" width="17" height="313.85" fill="#fe8208"/>
<rect x="1587.54" y="1236.14" width="17" height="195.51" fill="#fe8208"/>
<rect x="1613.57" y="1308.18" width="17" height="123.47" fill="#fe8208"/>
<rect x="1639.6" y="1122.41" width="17" height="309.24" fill="#fe8208"/>
<rect x="1665.63" y="1184.33" width="17" height="247.32" fill="#fe8208"/>
<rect x="1691.66" y="1280.14" width="17" height="151.51" fill="#fe8208"/>
<rect x="1717.69" y="1305.87" width="17" height="125.78" fill="#fe8208"/>
<rect x="1743.72" y="1318.82" width="17" height="112.83" fill="#fe8208"/>
<rect x="1769.75" y="1308.71" width="17" height="122.94" fill="#fe8208"/>
<rect x="1795.78" y="1369.03" width="17" height="62.62" fill="#fe8208"/>
<rect x="1821.81" y="1350.23" width="17" height="81.42" fill="#fe8208"/>
<rect x="1847.83" y="1235.61" width="17" height="196.04" fill="#fe8208"/>
<rect x="1873.86" y="1381.99" width="17" height="49.66" fill="#fe8208"/>
</g>
<path class="ax" d="M125.95 1075.33V1433.12M109.48 1431.65H1898.9M109.48 1342.94H125.95M109.48 1254.22H125.95M109.48 1165.51H125.95M109.48 1076.8H125.95M138.42 1431.65V1448.12M164.45 1431.65V1448.12M190.48 1431.65V1448.12M216.51 1431.65V1448.12M242.54 1431.65V1448.12M268.56 1431.65V1448.12M294.59 1431.65V1448.12M320.62 1431.65V1448.12M346.65 1431.65V1448.12M372.68 1431.65V1448.12M398.71 1431.65V1448.12M424.74 1431.65V1448.12M450.77 1431.65V1448.12M476.8 1431.65V1448.12M502.83 1431.65V1448.12M528.86 1431.65V1448.12M554.88 1431.65V1448.12M580.91 1431.65V1448.12M606.94 1431.65V1448.12M632.97 1431.65V1448.12M659 1431.65V1448.12M685.03 1431.65V1448.12M711.06 1431.65V1448.12M737.09 1431.65V1448.12M763.12 1431.65V1448.12M789.14 1431.65V1448.12M815.17 1431.65V1448.12M841.2 1431.65V1448.12M867.23 1431.65V1448.12M893.26 1431.65V1448.12M919.29 1431.65V1448.12M945.32 1431.65V1448.12M971.35 1431.65V1448.12M997.38 1431.65V1448.12M1023.41 1431.65V1448.12M1049.43 1431.65V1448.12M1075.46 1431.65V1448.12M1101.49 1431.65V1448.12M1127.52 1431.65V1448.12M1153.55 1431.65V1448.12M1179.58 1431.65V1448.12M1205.61 1431.65V1448.12M1231.64 1431.65V1448.12M1257.67 1431.65V1448.12M1283.7 1431.65V1448.12M1309.73 1431.65V1448.12M1335.75 1431.65V1448.12M1361.78 1431.65V1448.12M1387.81 1431.65V1448.12M1413.84 1431.65V1448.12M1439.87 1431.65V1448.12M1465.9 1431.65V1448.12M1491.93 1431.65V1448.12M1517.96 1431.65V1448.12M1543.99 1431.65V1448.12M1570.02 1431.65V1448.12M1596.04 1431.65V1448.12M1622.07 1431.65V1448.12M1648.1 1431.65V1448.12M1674.13 1431.65V1448.12M1700.16 1431.65V1448.12M1726.19 1431.65V1448.12M1752.22 1431.65V1448.12M1778.25 1431.65V1448.12M1804.28 1431.65V1448.12M1830.31 1431.65V1448.12M1856.33 1431.65V1448.12M1882.36 1431.65V1448.12"/>
<text class="yt" transform="translate(107.58 1440.75) scale(1 1.04)">0</text>
<text class="yt" transform="translate(107.58 1352.04) scale(1 1.04)">50</text>
<text class="yt" transform="translate(107.58 1263.32) scale(1 1.04)">100</text>
<text class="yt" transform="translate(107.58 1174.61) scale(1 1.04)">150</text>
<text class="yt" transform="translate(107.58 1085.9) scale(1 1.04)">200</text>
<text class="title" x="139.4" y="1106.6">birc5</text>
<text class="yl" transform="translate(40.65 1268.7) rotate(-90) scale(0.966 1)">Relative mRNA expression</text>
<g class="xl" font-size="25">
<text transform="translate(146.42 1449.85) rotate(-90) scale(1 1.055)">HD1</text>
<text transform="translate(172.45 1449.85) rotate(-90) scale(1 1.055)">HD2</text>
<text transform="translate(198.48 1449.85) rotate(-90) scale(1 1.055)">HD3</text>
<text transform="translate(224.51 1449.85) rotate(-90) scale(1 1.055)">HD4</text>
<text transform="translate(250.54 1449.85) rotate(-90) scale(1 1.055)">HD7</text>
<text transform="translate(276.56 1449.85) rotate(-90) scale(1 1.055)">HD9</text>
<text transform="translate(302.59 1449.85) rotate(-90) scale(1 1.055)">HD13</text>
<text transform="translate(328.62 1449.85) rotate(-90) scale(1 1.055)">HD21</text>
<text transform="translate(354.65 1449.85) rotate(-90) scale(1 1.055)">HD26</text>
<text transform="translate(380.68 1449.85) rotate(-90) scale(1 1.055)">HD39</text>
<text transform="translate(406.71 1449.85) rotate(-90) scale(1 1.055)">HD43</text>
<text transform="translate(432.74 1449.85) rotate(-90) scale(1 1.055)">HD44</text>
<text transform="translate(458.77 1449.85) rotate(-90) scale(1 1.055)">HD46</text>
<text transform="translate(484.8 1449.85) rotate(-90) scale(1 1.055)">HD49</text>
<text transform="translate(510.83 1449.85) rotate(-90) scale(1 1.055)">HD50</text>
<text transform="translate(536.86 1449.85) rotate(-90) scale(1 1.055)">HD51</text>
<text transform="translate(562.88 1449.85) rotate(-90) scale(1 1.055)">HD54</text>
<text transform="translate(588.91 1449.85) rotate(-90) scale(1 1.055)">HD55</text>
<text transform="translate(614.94 1449.85) rotate(-90) scale(1 1.055)">HD56</text>
<text transform="translate(640.97 1449.85) rotate(-90) scale(1 1.055)">HD59</text>
<text transform="translate(667 1449.85) rotate(-90) scale(1 1.055)">HD60</text>
<text transform="translate(693.03 1449.85) rotate(-90) scale(1 1.055)">HD101</text>
<text transform="translate(719.06 1449.85) rotate(-90) scale(1 1.055)">HD102</text>
<text transform="translate(745.09 1449.85) rotate(-90) scale(1 1.055)">HD105</text>
<text transform="translate(771.12 1449.85) rotate(-90) scale(1 1.055)">CLD1</text>
<text transform="translate(797.14 1449.85) rotate(-90) scale(1 1.055)">CLD2</text>
<text transform="translate(823.17 1449.85) rotate(-90) scale(1 1.055)">CLD4</text>
<text transform="translate(849.2 1449.85) rotate(-90) scale(1 1.055)">CLD5</text>
<text transform="translate(875.23 1449.85) rotate(-90) scale(1 1.055)">CLD6</text>
<text transform="translate(901.26 1449.85) rotate(-90) scale(1 1.055)">CLD7</text>
<text transform="translate(927.29 1449.85) rotate(-90) scale(1 1.055)">CLD8</text>
<text transform="translate(953.32 1449.85) rotate(-90) scale(1 1.055)">CLD9</text>
<text transform="translate(979.35 1449.85) rotate(-90) scale(1 1.055)">CLD10</text>
<text transform="translate(1005.38 1449.85) rotate(-90) scale(1 1.055)">CLD11</text>
<text transform="translate(1031.41 1449.85) rotate(-90) scale(1 1.055)">CLD12</text>
<text transform="translate(1057.43 1449.85) rotate(-90) scale(1 1.055)">CLD13</text>
<text transform="translate(1083.46 1449.85) rotate(-90) scale(1 1.055)">CLD14</text>
<text transform="translate(1109.49 1449.85) rotate(-90) scale(1 1.055)">CLD15</text>
<text transform="translate(1135.52 1449.85) rotate(-90) scale(1 1.055)">CLD16</text>
<text transform="translate(1161.55 1449.85) rotate(-90) scale(1 1.055)">CLD17</text>
<text transform="translate(1187.58 1449.85) rotate(-90) scale(1 1.055)">CLD18</text>
<text transform="translate(1213.61 1449.85) rotate(-90) scale(1 1.055)">CLD19</text>
<text transform="translate(1239.64 1449.85) rotate(-90) scale(1 1.055)">CLD20</text>
<text transform="translate(1265.67 1449.85) rotate(-90) scale(1 1.055)">CLD21</text>
<text transform="translate(1291.7 1449.85) rotate(-90) scale(1 1.055)">CLD22</text>
<text transform="translate(1317.73 1449.85) rotate(-90) scale(1 1.055)">HCC1</text>
<text transform="translate(1343.75 1449.85) rotate(-90) scale(1 1.055)">HCC2</text>
<text transform="translate(1369.78 1449.85) rotate(-90) scale(1 1.055)">HCC3</text>
<text transform="translate(1395.81 1449.85) rotate(-90) scale(1 1.055)">HCC4</text>
<text transform="translate(1421.84 1449.85) rotate(-90) scale(1 1.055)">HCC5</text>
<text transform="translate(1447.87 1449.85) rotate(-90) scale(1 1.055)">HCC7</text>
<text transform="translate(1473.9 1449.85) rotate(-90) scale(1 1.055)">HCC8</text>
<text transform="translate(1499.93 1449.85) rotate(-90) scale(1 1.055)">HCC9</text>
<text transform="translate(1525.96 1449.85) rotate(-90) scale(1 1.055)">HCC11</text>
<text transform="translate(1551.99 1449.85) rotate(-90) scale(1 1.055)">HCC12</text>
<text transform="translate(1578.02 1449.85) rotate(-90) scale(1 1.055)">HCC13</text>
<text transform="translate(1604.04 1449.85) rotate(-90) scale(1 1.055)">HCC14</text>
<text transform="translate(1630.07 1449.85) rotate(-90) scale(1 1.055)">HCC15</text>
<text transform="translate(1656.1 1449.85) rotate(-90) scale(1 1.055)">HCC16</text>
<text transform="translate(1682.13 1449.85) rotate(-90) scale(1 1.055)">HCC17</text>
<text transform="translate(1708.16 1449.85) rotate(-90) scale(1 1.055)">HCC18</text>
<text transform="translate(1734.19 1449.85) rotate(-90) scale(1 1.055)">HCC19</text>
<text transform="translate(1760.22 1449.85) rotate(-90) scale(1 1.055)">HCC20</text>
<text transform="translate(1786.25 1449.85) rotate(-90) scale(1 1.055)">HCC21</text>
<text transform="translate(1812.28 1449.85) rotate(-90) scale(1 1.055)">HCC22</text>
<text transform="translate(1838.31 1449.85) rotate(-90) scale(1 1.055)">HCC23</text>
<text transform="translate(1864.33 1449.85) rotate(-90) scale(1 1.055)">HCC24</text>
<text transform="translate(1890.36 1449.85) rotate(-90) scale(1 1.055)">HCC25</text>
</g>
</g>
<g id="chart-b3">
<g class="bars">
<rect x="129.92" y="1870.8" width="17" height="32.8" fill="#0000ff"/>
<rect x="155.95" y="1858.4" width="17" height="45.2" fill="#0000ff"/>
<rect x="181.98" y="1878.6" width="17" height="25" fill="#0000ff"/>
<rect x="208.01" y="1873.28" width="17" height="30.32" fill="#0000ff"/>
<rect x="234.04" y="1889.94" width="17" height="13.66" fill="#0000ff"/>
<rect x="260.06" y="1867.97" width="17" height="35.63" fill="#0000ff"/>
<rect x="286.09" y="1881.08" width="17" height="22.52" fill="#0000ff"/>
<rect x="312.12" y="1898.09" width="17" height="5.51" fill="#0000ff"/>
<rect x="338.15" y="1881.08" width="17" height="22.52" fill="#0000ff"/>
<rect x="364.18" y="1873.28" width="17" height="30.32" fill="#0000ff"/>
<rect x="390.21" y="1898.09" width="17" height="5.51" fill="#0000ff"/>
<rect x="416.24" y="1898.09" width="17" height="5.51" fill="#0000ff"/>
<rect x="442.27" y="1899.86" width="17" height="3.74" fill="#0000ff"/>
<rect x="468.3" y="1878.96" width="17" height="24.64" fill="#0000ff"/>
<rect x="494.33" y="1899.86" width="17" height="3.74" fill="#0000ff"/>
<rect x="520.36" y="1898.09" width="17" height="5.51" fill="#0000ff"/>
<rect x="546.38" y="1889.94" width="17" height="13.66" fill="#0000ff"/>
<rect x="572.41" y="1886.04" width="17" height="17.56" fill="#0000ff"/>
<rect x="598.44" y="1887.11" width="17" height="16.49" fill="#0000ff"/>
<rect x="624.47" y="1898.09" width="17" height="5.51" fill="#0000ff"/>
<rect x="650.5" y="1897.03" width="17" height="6.57" fill="#0000ff"/>
<rect x="676.53" y="1887.11" width="17" height="16.49" fill="#0000ff"/>
<rect x="702.56" y="1879.66" width="17" height="23.94" fill="#0000ff"/>
<rect x="728.59" y="1889.59" width="17" height="14.01" fill="#0000ff"/>
<rect x="754.62" y="1872.22" width="17" height="31.38" fill="#1bba08"/>
<rect x="780.64" y="1892.42" width="17" height="11.18" fill="#1bba08"/>
<rect x="806.67" y="1870.8" width="17" height="32.8" fill="#1bba08"/>
<rect x="832.7" y="1881.44" width="17" height="22.16" fill="#1bba08"/>
<rect x="858.73" y="1899.86" width="17" height="3.74" fill="#1bba08"/>
<rect x="884.76" y="1880.2" width="17" height="23.4" fill="#1bba08"/>
<rect x="910.79" y="1807.01" width="17" height="96.59" fill="#1bba08"/>
<rect x="936.82" y="1870.8" width="17" height="32.8" fill="#1bba08"/>
<rect x="962.85" y="1898.09" width="17" height="5.51" fill="#1bba08"/>
<rect x="988.88" y="1892.07" width="17" height="11.53" fill="#1bba08"/>
<rect x="1014.91" y="1897.38" width="17" height="6.22" fill="#1bba08"/>
<rect x="1040.93" y="1900.22" width="17" height="3.38" fill="#1bba08"/>
<rect x="1066.96" y="1898.09" width="17" height="5.51" fill="#1bba08"/>
<rect x="1092.99" y="1872.04" width="17" height="31.56" fill="#1bba08"/>
<rect x="1119.02" y="1809.49" width="17" height="94.11" fill="#1bba08"/>
<rect x="1145.05" y="1880.02" width="17" height="23.58" fill="#1bba08"/>
<rect x="1171.08" y="1879.31" width="17" height="24.29" fill="#1bba08"/>
<rect x="1197.11" y="1814.45" width="17" height="89.15" fill="#1bba08"/>
<rect x="1223.14" y="1872.04" width="17" height="31.56" fill="#1bba08"/>
<rect x="1249.17" y="1871.16" width="17" height="32.44" fill="#1bba08"/>
<rect x="1275.2" y="1867.61" width="17" height="35.99" fill="#1bba08"/>
<rect x="1301.23" y="1887.11" width="17" height="16.49" fill="#fe8208"/>
<rect x="1327.25" y="1856.98" width="17" height="46.62" fill="#fe8208"/>
<rect x="1353.28" y="1719.48" width="17" height="184.12" fill="#fe8208"/>
<rect x="1379.31" y="1881.44" width="17" height="22.16" fill="#fe8208"/>
<rect x="1405.34" y="1863.54" width="17" height="40.06" fill="#fe8208"/>
<rect x="1431.37" y="1882.5" width="17" height="21.1" fill="#fe8208"/>
<rect x="1457.4" y="1877.54" width="17" height="26.06" fill="#fe8208"/>
<rect x="1483.43" y="1881.44" width="17" height="22.16" fill="#fe8208"/>
<rect x="1509.46" y="1894.9" width="17" height="8.7" fill="#fe8208"/>
<rect x="1535.49" y="1889.59" width="17" height="14.01" fill="#fe8208"/>
<rect x="1561.52" y="1862.65" width="17" height="40.95" fill="#fe8208"/>
<rect x="1587.54" y="1857.34" width="17" height="46.26" fill="#fe8208"/>
<rect x="1613.57" y="1899.86" width="17" height="3.74" fill="#fe8208"/>
<rect x="1639.6" y="1898.09" width="17" height="5.51" fill="#fe8208"/>
<rect x="1665.63" y="1895.61" width="17" height="7.99" fill="#fe8208"/>
<rect x="1691.66" y="1854.5" width="17" height="49.1" fill="#fe8208"/>
<rect x="1717.69" y="1882.85" width="17" height="20.75" fill="#fe8208"/>
<rect x="1743.72" y="1861.94" width="17" height="41.66" fill="#fe8208"/>
<rect x="1769.75" y="1882.85" width="17" height="20.75" fill="#fe8208"/>
<rect x="1795.78" y="1881.44" width="17" height="22.16" fill="#fe8208"/>
<rect x="1821.81" y="1820.83" width="17" height="82.77" fill="#fe8208"/>
<rect x="1847.83" y="1571.34" width="17" height="332.26" fill="#fe8208"/>
<rect x="1873.86" y="1880.02" width="17" height="23.58" fill="#fe8208"/>
</g>
<path class="ax" d="M125.95 1547.73V1905.07M109.48 1903.6H1898.9M109.48 1832.72H125.95M109.48 1761.84H125.95M109.48 1690.96H125.95M109.48 1620.08H125.95M109.48 1549.2H125.95M138.42 1903.6V1920.07M164.45 1903.6V1920.07M190.48 1903.6V1920.07M216.51 1903.6V1920.07M242.54 1903.6V1920.07M268.56 1903.6V1920.07M294.59 1903.6V1920.07M320.62 1903.6V1920.07M346.65 1903.6V1920.07M372.68 1903.6V1920.07M398.71 1903.6V1920.07M424.74 1903.6V1920.07M450.77 1903.6V1920.07M476.8 1903.6V1920.07M502.83 1903.6V1920.07M528.86 1903.6V1920.07M554.88 1903.6V1920.07M580.91 1903.6V1920.07M606.94 1903.6V1920.07M632.97 1903.6V1920.07M659 1903.6V1920.07M685.03 1903.6V1920.07M711.06 1903.6V1920.07M737.09 1903.6V1920.07M763.12 1903.6V1920.07M789.14 1903.6V1920.07M815.17 1903.6V1920.07M841.2 1903.6V1920.07M867.23 1903.6V1920.07M893.26 1903.6V1920.07M919.29 1903.6V1920.07M945.32 1903.6V1920.07M971.35 1903.6V1920.07M997.38 1903.6V1920.07M1023.41 1903.6V1920.07M1049.43 1903.6V1920.07M1075.46 1903.6V1920.07M1101.49 1903.6V1920.07M1127.52 1903.6V1920.07M1153.55 1903.6V1920.07M1179.58 1903.6V1920.07M1205.61 1903.6V1920.07M1231.64 1903.6V1920.07M1257.67 1903.6V1920.07M1283.7 1903.6V1920.07M1309.73 1903.6V1920.07M1335.75 1903.6V1920.07M1361.78 1903.6V1920.07M1387.81 1903.6V1920.07M1413.84 1903.6V1920.07M1439.87 1903.6V1920.07M1465.9 1903.6V1920.07M1491.93 1903.6V1920.07M1517.96 1903.6V1920.07M1543.99 1903.6V1920.07M1570.02 1903.6V1920.07M1596.04 1903.6V1920.07M1622.07 1903.6V1920.07M1648.1 1903.6V1920.07M1674.13 1903.6V1920.07M1700.16 1903.6V1920.07M1726.19 1903.6V1920.07M1752.22 1903.6V1920.07M1778.25 1903.6V1920.07M1804.28 1903.6V1920.07M1830.31 1903.6V1920.07M1856.33 1903.6V1920.07M1882.36 1903.6V1920.07"/>
<text class="yt" transform="translate(107.58 1912.7) scale(1 1.04)">0</text>
<text class="yt" transform="translate(107.58 1841.82) scale(1 1.04)">20</text>
<text class="yt" transform="translate(107.58 1770.94) scale(1 1.04)">40</text>
<text class="yt" transform="translate(107.58 1700.06) scale(1 1.04)">60</text>
<text class="yt" transform="translate(107.58 1629.18) scale(1 1.04)">80</text>
<text class="yt" transform="translate(107.58 1558.3) scale(1 1.04)">100</text>
<text class="title" x="138.9" y="1575.6">tnf</text>
<text class="yl" transform="translate(40.65 1740.75) rotate(-90) scale(0.966 1)">Relative mRNA expression</text>
<g class="xl" font-size="25">
<text transform="translate(146.42 1922.1) rotate(-90) scale(1 1.055)">HD1</text>
<text transform="translate(172.45 1922.1) rotate(-90) scale(1 1.055)">HD2</text>
<text transform="translate(198.48 1922.1) rotate(-90) scale(1 1.055)">HD3</text>
<text transform="translate(224.51 1922.1) rotate(-90) scale(1 1.055)">HD4</text>
<text transform="translate(250.54 1922.1) rotate(-90) scale(1 1.055)">HD7</text>
<text transform="translate(276.56 1922.1) rotate(-90) scale(1 1.055)">HD9</text>
<text transform="translate(302.59 1922.1) rotate(-90) scale(1 1.055)">HD13</text>
<text transform="translate(328.62 1922.1) rotate(-90) scale(1 1.055)">HD21</text>
<text transform="translate(354.65 1922.1) rotate(-90) scale(1 1.055)">HD26</text>
<text transform="translate(380.68 1922.1) rotate(-90) scale(1 1.055)">HD39</text>
<text transform="translate(406.71 1922.1) rotate(-90) scale(1 1.055)">HD43</text>
<text transform="translate(432.74 1922.1) rotate(-90) scale(1 1.055)">HD44</text>
<text transform="translate(458.77 1922.1) rotate(-90) scale(1 1.055)">HD46</text>
<text transform="translate(484.8 1922.1) rotate(-90) scale(1 1.055)">HD49</text>
<text transform="translate(510.83 1922.1) rotate(-90) scale(1 1.055)">HD50</text>
<text transform="translate(536.86 1922.1) rotate(-90) scale(1 1.055)">HD51</text>
<text transform="translate(562.88 1922.1) rotate(-90) scale(1 1.055)">HD54</text>
<text transform="translate(588.91 1922.1) rotate(-90) scale(1 1.055)">HD55</text>
<text transform="translate(614.94 1922.1) rotate(-90) scale(1 1.055)">HD56</text>
<text transform="translate(640.97 1922.1) rotate(-90) scale(1 1.055)">HD59</text>
<text transform="translate(667 1922.1) rotate(-90) scale(1 1.055)">HD60</text>
<text transform="translate(693.03 1922.1) rotate(-90) scale(1 1.055)">HD101</text>
<text transform="translate(719.06 1922.1) rotate(-90) scale(1 1.055)">HD102</text>
<text transform="translate(745.09 1922.1) rotate(-90) scale(1 1.055)">HD105</text>
<text transform="translate(771.12 1922.1) rotate(-90) scale(1 1.055)">CLD1</text>
<text transform="translate(797.14 1922.1) rotate(-90) scale(1 1.055)">CLD2</text>
<text transform="translate(823.17 1922.1) rotate(-90) scale(1 1.055)">CLD4</text>
<text transform="translate(849.2 1922.1) rotate(-90) scale(1 1.055)">CLD5</text>
<text transform="translate(875.23 1922.1) rotate(-90) scale(1 1.055)">CLD6</text>
<text transform="translate(901.26 1922.1) rotate(-90) scale(1 1.055)">CLD7</text>
<text transform="translate(927.29 1922.1) rotate(-90) scale(1 1.055)">CLD8</text>
<text transform="translate(953.32 1922.1) rotate(-90) scale(1 1.055)">CLD9</text>
<text transform="translate(979.35 1922.1) rotate(-90) scale(1 1.055)">CLD10</text>
<text transform="translate(1005.38 1922.1) rotate(-90) scale(1 1.055)">CLD11</text>
<text transform="translate(1031.41 1922.1) rotate(-90) scale(1 1.055)">CLD12</text>
<text transform="translate(1057.43 1922.1) rotate(-90) scale(1 1.055)">CLD13</text>
<text transform="translate(1083.46 1922.1) rotate(-90) scale(1 1.055)">CLD14</text>
<text transform="translate(1109.49 1922.1) rotate(-90) scale(1 1.055)">CLD15</text>
<text transform="translate(1135.52 1922.1) rotate(-90) scale(1 1.055)">CLD16</text>
<text transform="translate(1161.55 1922.1) rotate(-90) scale(1 1.055)">CLD17</text>
<text transform="translate(1187.58 1922.1) rotate(-90) scale(1 1.055)">CLD18</text>
<text transform="translate(1213.61 1922.1) rotate(-90) scale(1 1.055)">CLD19</text>
<text transform="translate(1239.64 1922.1) rotate(-90) scale(1 1.055)">CLD20</text>
<text transform="translate(1265.67 1922.1) rotate(-90) scale(1 1.055)">CLD21</text>
<text transform="translate(1291.7 1922.1) rotate(-90) scale(1 1.055)">CLD22</text>
<text transform="translate(1317.73 1922.1) rotate(-90) scale(1 1.055)">HCC1</text>
<text transform="translate(1343.75 1922.1) rotate(-90) scale(1 1.055)">HCC2</text>
<text transform="translate(1369.78 1922.1) rotate(-90) scale(1 1.055)">HCC3</text>
<text transform="translate(1395.81 1922.1) rotate(-90) scale(1 1.055)">HCC4</text>
<text transform="translate(1421.84 1922.1) rotate(-90) scale(1 1.055)">HCC5</text>
<text transform="translate(1447.87 1922.1) rotate(-90) scale(1 1.055)">HCC7</text>
<text transform="translate(1473.9 1922.1) rotate(-90) scale(1 1.055)">HCC8</text>
<text transform="translate(1499.93 1922.1) rotate(-90) scale(1 1.055)">HCC9</text>
<text transform="translate(1525.96 1922.1) rotate(-90) scale(1 1.055)">HCC11</text>
<text transform="translate(1551.99 1922.1) rotate(-90) scale(1 1.055)">HCC12</text>
<text transform="translate(1578.02 1922.1) rotate(-90) scale(1 1.055)">HCC13</text>
<text transform="translate(1604.04 1922.1) rotate(-90) scale(1 1.055)">HCC14</text>
<text transform="translate(1630.07 1922.1) rotate(-90) scale(1 1.055)">HCC15</text>
<text transform="translate(1656.1 1922.1) rotate(-90) scale(1 1.055)">HCC16</text>
<text transform="translate(1682.13 1922.1) rotate(-90) scale(1 1.055)">HCC17</text>
<text transform="translate(1708.16 1922.1) rotate(-90) scale(1 1.055)">HCC18</text>
<text transform="translate(1734.19 1922.1) rotate(-90) scale(1 1.055)">HCC19</text>
<text transform="translate(1760.22 1922.1) rotate(-90) scale(1 1.055)">HCC20</text>
<text transform="translate(1786.25 1922.1) rotate(-90) scale(1 1.055)">HCC21</text>
<text transform="translate(1812.28 1922.1) rotate(-90) scale(1 1.055)">HCC22</text>
<text transform="translate(1838.31 1922.1) rotate(-90) scale(1 1.055)">HCC23</text>
<text transform="translate(1864.33 1922.1) rotate(-90) scale(1 1.055)">HCC24</text>
<text transform="translate(1890.36 1922.1) rotate(-90) scale(1 1.055)">HCC25</text>
</g>
</g>
</svg>
</body>
</html>
